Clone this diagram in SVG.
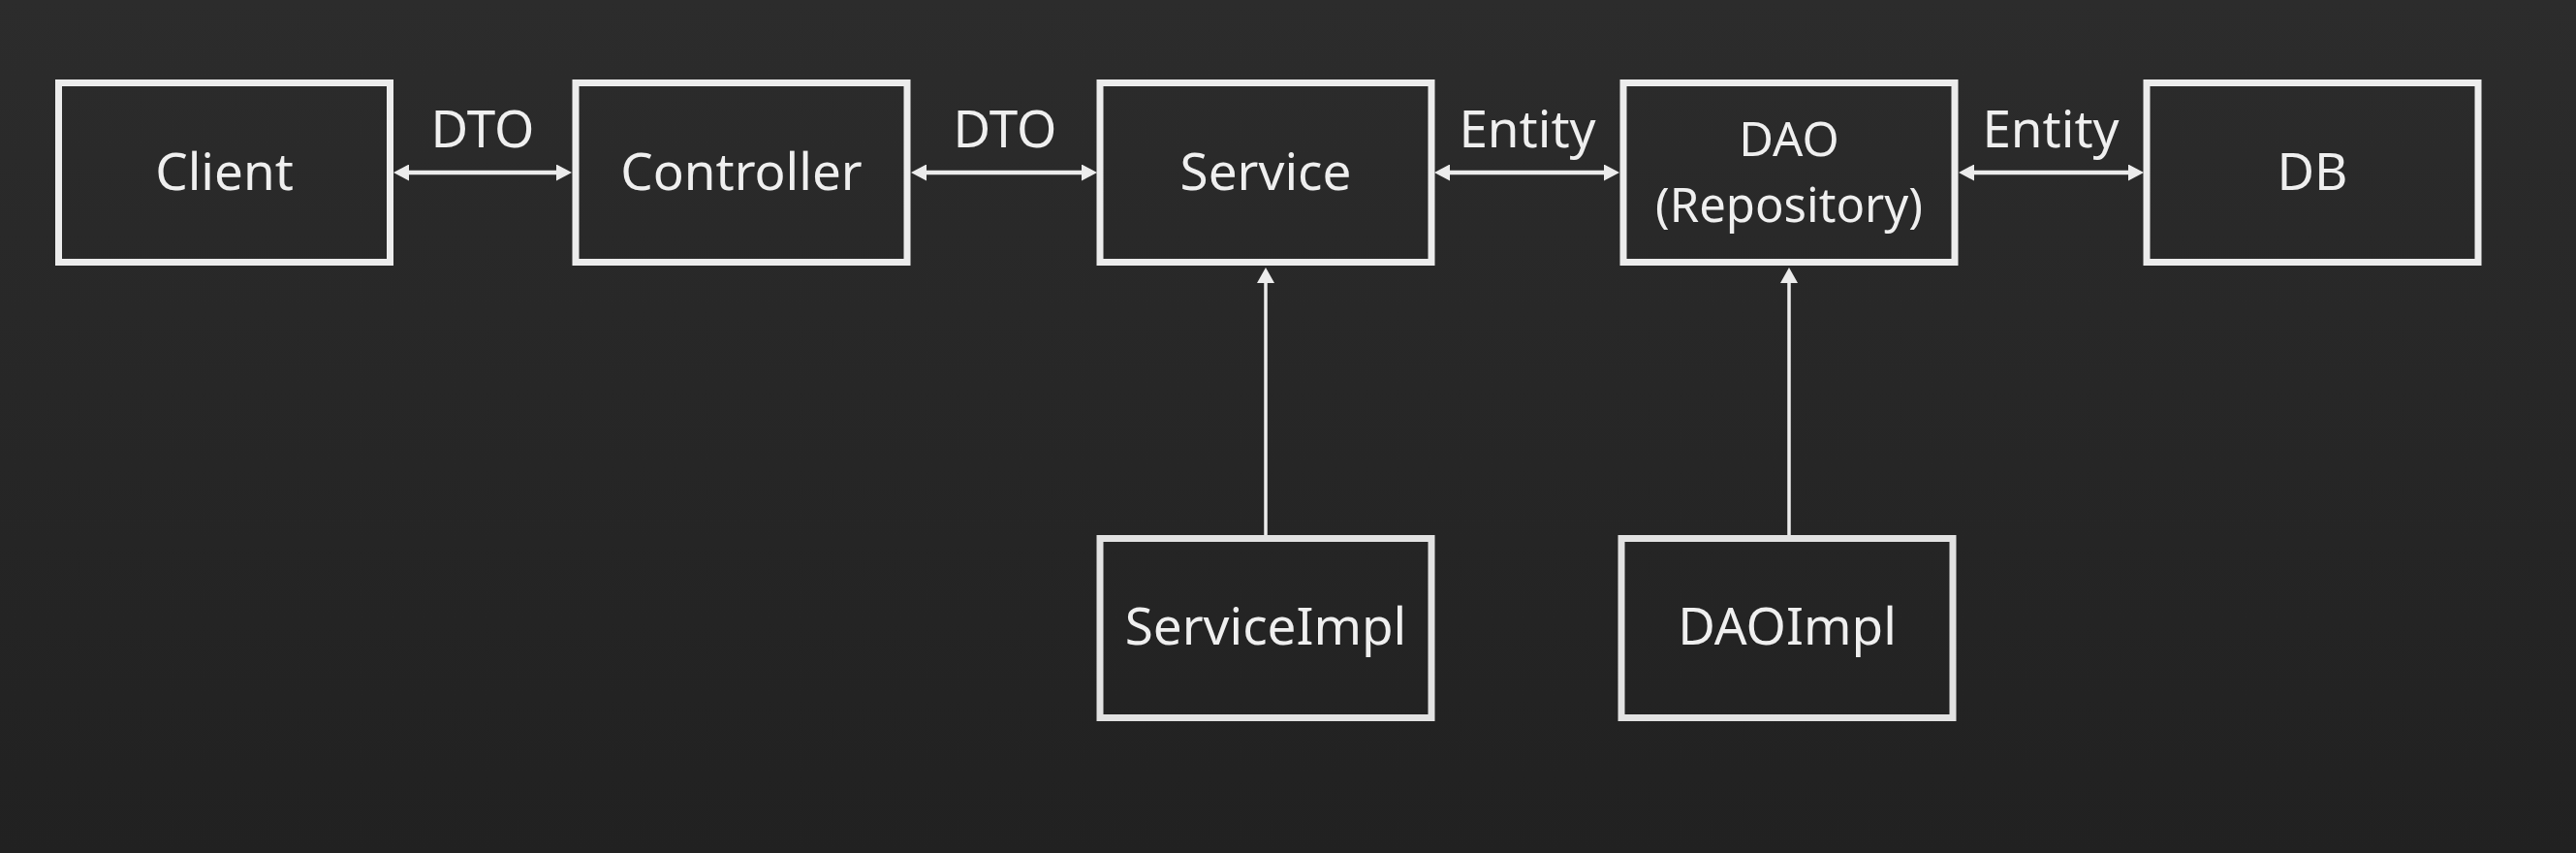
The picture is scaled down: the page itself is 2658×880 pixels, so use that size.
<svg xmlns="http://www.w3.org/2000/svg" width="2658" height="880" viewBox="0 0 2658 880">
  <defs>
    <linearGradient id="bg" x1="0" y1="0" x2="0" y2="1">
      <stop offset="0" stop-color="#2c2c2c"/>
      <stop offset="1" stop-color="#212121"/>
    </linearGradient>
    <marker id="ah" markerUnits="userSpaceOnUse" markerWidth="16" markerHeight="17" viewBox="0 0 16 17" refX="8" refY="8.5" orient="auto-start-reverse">
      <path d="M0,0 L16,8.5 L0,17 z" fill="#ececec"/>
    </marker>
    <marker id="ahv" markerUnits="userSpaceOnUse" markerWidth="16" markerHeight="18" viewBox="0 0 16 18" refX="8" refY="9" orient="auto">
      <path d="M0,0 L16,9 L0,18 z" fill="#ececec"/>
    </marker>
  </defs>
  <style>
    .box { fill: none; stroke: #ececec; stroke-width: 7; }
    .low { stroke: #e2e2e2; }
    .lbl { font-family: "Noto Sans", "Open Sans", sans-serif; font-size: 53px; fill: #efefef; text-anchor: middle; }
    .sm { font-size: 49px; }
    .h { stroke: #ececec; stroke-width: 4.5; fill: none; marker-start: url(#ah); marker-end: url(#ah); }
    .v { stroke: #ececec; stroke-width: 3.5; fill: none; marker-end: url(#ahv); }
  </style>
  <rect x="0" y="0" width="2658" height="880" fill="url(#bg)"/>

  <g id="connectors">
    <line class="h" x1="414" y1="178" x2="582" y2="178"/>
    <line class="h" x1="948" y1="178" x2="1124" y2="178"/>
    <line class="h" x1="1488" y1="178" x2="1663" y2="178"/>
    <line class="h" x1="2029" y1="178" x2="2204" y2="178"/>
    <line class="v" x1="1306" y1="552" x2="1306" y2="284"/>
    <line class="v" x1="1846" y1="552" x2="1846" y2="284"/>
    <text class="lbl" x="498" y="152">DTO</text>
    <text class="lbl" x="1037" y="152">DTO</text>
    <text class="lbl" x="1576" y="152">Entity</text>
    <text class="lbl" x="2116" y="152">Entity</text>
  </g>

  <g id="client">
    <rect class="box" x="60.5" y="85.5" width="342" height="185"/>
    <text class="lbl" x="231.5" y="195.5">Client</text>
  </g>
  <g id="controller">
    <rect class="box" x="594" y="85.5" width="342" height="185"/>
    <text class="lbl" x="765" y="195.5">Controller</text>
  </g>
  <g id="service">
    <rect class="box" x="1135" y="85.5" width="342" height="185"/>
    <text class="lbl" x="1306" y="195.5">Service</text>
  </g>
  <g id="dao">
    <rect class="box" x="1675" y="85.5" width="342" height="185"/>
    <text class="lbl sm" x="1846" y="161">DAO</text>
    <text class="lbl sm" x="1846" y="229">(Repository)</text>
  </g>
  <g id="db">
    <rect class="box" x="2215" y="85.5" width="342" height="185"/>
    <text class="lbl" x="2386" y="195.5">DB</text>
  </g>
  <g id="serviceimpl">
    <rect class="box low" x="1135" y="555.5" width="342" height="185"/>
    <text class="lbl" x="1306" y="665">ServiceImpl</text>
  </g>
  <g id="daoimpl">
    <rect class="box low" x="1673" y="555.5" width="342" height="185"/>
    <text class="lbl" x="1844" y="665">DAOImpl</text>
  </g>
</svg>
